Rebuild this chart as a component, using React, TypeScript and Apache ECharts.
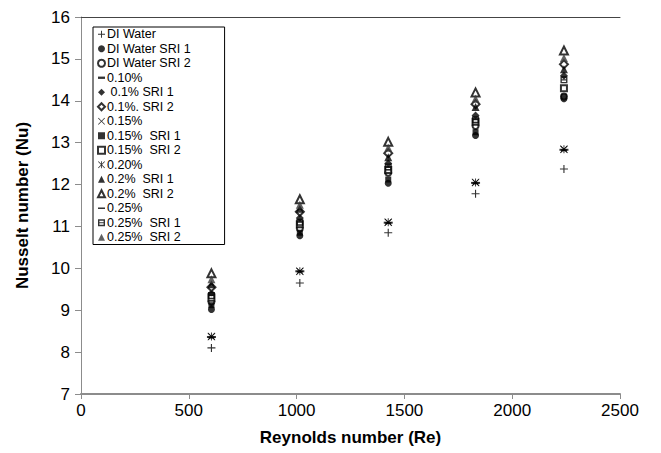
import React, { useEffect, useRef } from "react";
import * as echarts from "echarts";

const reynolds = [605, 1015, 1425, 1830, 2240];

const seriesNames = [
  "DI Water",
  "DI Water SRI 1",
  "DI Water SRI 2",
  "0.10%",
  " 0.1% SRI 1",
  "0.1%. SRI 2",
  "0.15%",
  "0.15%  SRI 1",
  "0.15%  SRI 2",
  "0.20%",
  "0.2%  SRI 1",
  "0.2%  SRI 2",
  "0.25%",
  "0.25%  SRI 1",
  "0.25%  SRI 2",
];

const diWater = [8.1, 9.65, 10.85, 11.78, 12.37];
const diWaterSri1 = [9.02, 10.78, 12.03, 13.17, 14.05];
const diWaterSri2 = [9.2, 10.95, 12.28, 13.4, 14.1];
const c010 = [8.35, 9.92, 11.08, 12.03, 12.82];
const c01Sri1 = [9.4, 11.2, 12.5, 13.65, 14.6];
const c01Sri2 = [9.55, 11.35, 12.75, 13.92, 14.87];
const c015 = [8.37, 9.93, 11.1, 12.05, 12.84];
const c015Sri1 = [9.12, 10.85, 12.12, 13.25, 14.1];
const c015Sri2 = [9.3, 11.05, 12.35, 13.5, 14.3];
const c020 = [8.37, 9.93, 11.1, 12.05, 12.84];
const c02Sri1 = [9.62, 11.42, 12.65, 13.85, 14.75];
const c02Sri2 = [9.88, 11.65, 13.02, 14.2, 15.2];
const c025 = [8.36, 9.93, 11.09, 12.04, 12.83];
const c025Sri1 = [9.35, 11.1, 12.42, 13.55, 14.5];
const c025Sri2 = [9.74, 11.52, 12.88, 14.05, 15.02];

const seriesValues = [
  diWater, diWaterSri1, diWaterSri2, c010, c01Sri1, c01Sri2, c015, c015Sri1,
  c015Sri2, c020, c02Sri1, c02Sri2, c025, c025Sri1, c025Sri2,
];

const PLUS = "path://M4.3,0H5.7V4.3H10V5.7H5.7V10H4.3V5.7H0V4.3H4.3Z";
const CROSS =
  "path://M0.8,0L5,4.2L9.2,0L10,0.8L5.8,5L10,9.2L9.2,10L5,5.8L0.8,10L0,9.2L4.2,5L0,0.8Z";
const STAR =
  "path://M0.8,0L5,4.2L9.2,0L10,0.8L5.8,5L10,9.2L9.2,10L5,5.8L0.8,10L0,9.2L4.2,5L0,0.8Z M4.4,0H5.6V10H4.4Z";
const SHORTDASH = "path://M0,0H6V2H0Z";
const LONGDASH = "path://M0,0H10V2.2H0Z";
const SQLINE = "path://M0,0H10V10H0Z M2,2V4.2H8V2Z M2,5.8V8H8V5.8Z";

const symbols: any[] = [
  [PLUS, 8],
  ["circle", 7],
  ["emptyCircle", 6],
  [SHORTDASH, [6, 2]],
  ["diamond", 8],
  ["emptyDiamond", 8],
  [CROSS, 7],
  ["rect", 6],
  ["emptyRect", 6],
  [STAR, 8],
  ["triangle", 8],
  ["emptyTriangle", 8],
  [LONGDASH, [9, 2]],
  [SQLINE, 7],
  ["triangle", 8],
];

export default function App() {
  const ref = useRef<HTMLDivElement>(null);
  useEffect(() => {
    document.body.style.margin = "0";
    const chart = echarts.init(ref.current!, undefined, { renderer: "svg" });
    const font = "Arial, 'Liberation Sans', sans-serif";
    const series = seriesNames.map((name, i) => {
      const sym = symbols[i][0] as string;
      return {
        name,
        type: "scatter",
        data: reynolds.map((x, j) => [x, seriesValues[i][j]]),
        symbol: sym,
        symbolSize: symbols[i][1],
        itemStyle: {
          color: i === 14 ? "#3a3a3a" : "#000",
          borderColor: "#000",
          borderWidth: sym.startsWith("empty") ? 1 : 0,
        },
        z: 3,
      };
    });
    chart.setOption({
      animation: false,
      backgroundColor: "#fff",
      textStyle: { fontFamily: font },
      grid: { left: 81, right: 41, top: 17, bottom: 59 },
      legend: {
        orient: "vertical",
        left: 93,
        top: 27,
        data: seriesNames,
        itemWidth: 7,
        itemHeight: 7,
        itemGap: 0,
        padding: [0, 34, 0, 4],
        borderColor: "#000",
        borderWidth: 1,
        backgroundColor: "#fff",
        textStyle: {
          fontSize: 12.5,
          color: "#000",
          fontFamily: font,
          padding: [0, 0, 0, -3],
          lineHeight: 14.5,
        },
      },
      xAxis: [
        {
          type: "value",
          min: 0,
          max: 2500,
          interval: 500,
          name: "Reynolds number (Re)",
          nameLocation: "middle",
          nameGap: 35,
          nameTextStyle: { fontSize: 17, fontWeight: "bold", color: "#000", fontFamily: font },
          axisLine: { show: true, lineStyle: { color: "#8c8c8c", width: 2 } },
          axisTick: { show: true, length: 5, lineStyle: { color: "#8c8c8c" } },
          axisLabel: {
            fontSize: 17,
            color: "#000",
            margin: 8,
            fontFamily: font,
            formatter: (v: number) => String(v),
          },
          splitLine: { show: false },
        },
        {
          type: "value",
          position: "top",
          min: 0,
          max: 2500,
          axisLine: { show: true, onZero: false, lineStyle: { color: "#444", width: 1 } },
          axisTick: { show: false },
          axisLabel: { show: false },
          splitLine: { show: false },
        },
      ],
      yAxis: {
        type: "value",
        min: 7,
        max: 16,
        interval: 1,
        name: "Nusselt number (Nu)",
        nameLocation: "middle",
        nameGap: 50,
        nameTextStyle: { fontSize: 17, fontWeight: "bold", color: "#000", fontFamily: font },
        axisLine: { show: true, lineStyle: { color: "#8c8c8c", width: 1 } },
        axisTick: { show: true, length: 6, lineStyle: { color: "#8c8c8c" } },
        axisLabel: { fontSize: 17, color: "#000", margin: 11, fontFamily: font },
        splitLine: { show: false },
      },
      series,
    });
    return () => chart.dispose();
  }, []);
  return <div ref={ref} style={{ width: 661, height: 453 }} />;
}
